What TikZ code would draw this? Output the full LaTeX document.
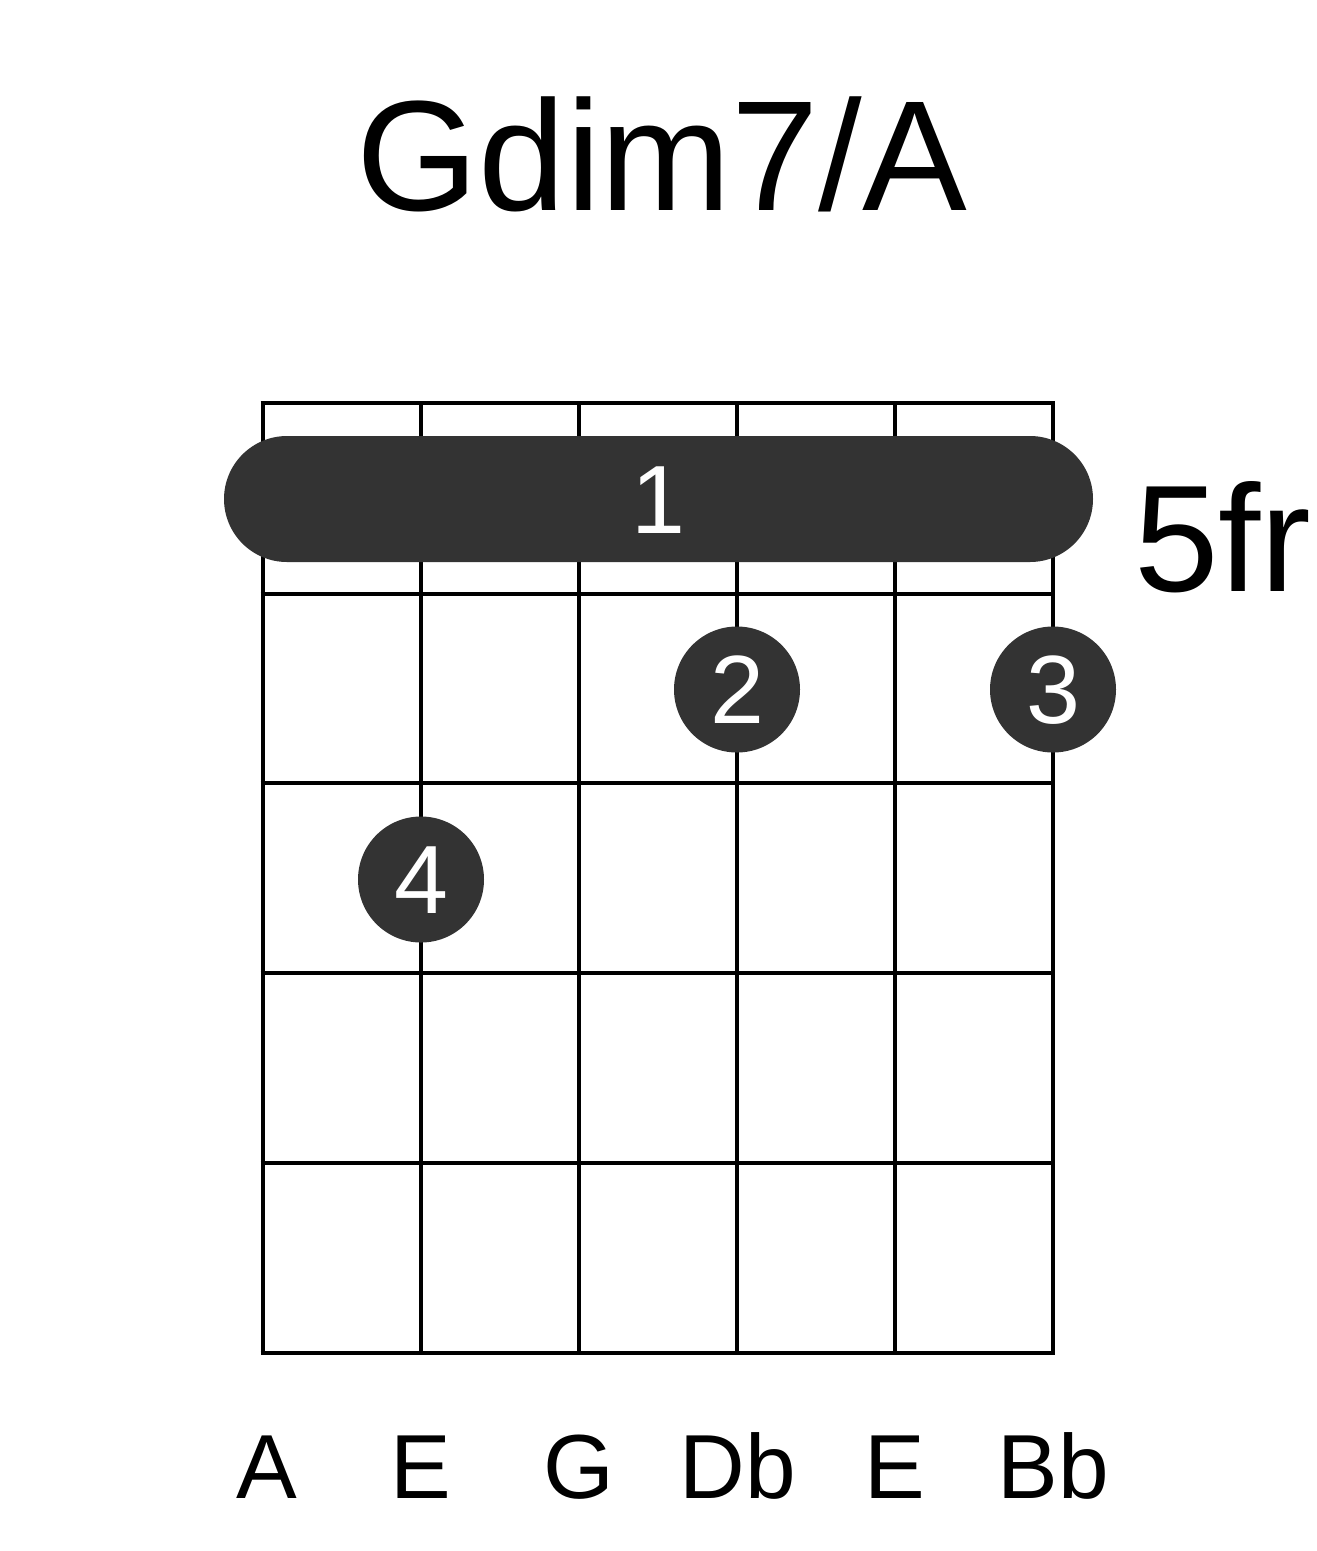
\documentclass[tikz,border=0pt]{standalone}
\usepackage{fontspec}
\setmainfont{Liberation Sans}
\definecolor{dotgray}{HTML}{333333}
\begin{document}
\begin{tikzpicture}[x=1pt,y=-1pt,
  gridline/.style={line width=4.6pt,black},
  fingerdot/.style={circle,fill=dotgray,minimum size=126pt,inner sep=0pt},
  fingernum/.style={white,font=\fontsize{97}{97}\selectfont,anchor=base},
  strname/.style={black,font=\fontsize{91}{91}\selectfont,anchor=base},
]
\useasboundingbox (0,0) rectangle (1317,1551);
% grid
\foreach \x in {263,421,579,737,895,1053} \draw[gridline] (\x,403) -- (\x,1353);
\foreach \y in {403,594,783,973,1163,1353} \draw[gridline] (260.7,\y) -- (1055.3,\y);
% title
\node[anchor=base,font=\fontsize{157}{157}\selectfont] (title) at (662,210) {Gdim7/A};
% barre
\node[fill=dotgray,rounded corners=63pt,minimum width=869pt,minimum height=126pt,inner sep=0pt] (barre) at (658.5,499) {};
\node[fingernum] (b1) at (658,533) {1};
% dots
\node[fingerdot] (d2) at (737,689.5) {};
\node[fingernum] (n2) at (737,723) {2};
\node[fingerdot] (d3) at (1053,689.5) {};
\node[fingernum] (n3) at (1053,723) {3};
\node[fingerdot] (d4) at (421,879.5) {};
\node[fingernum] (n4) at (421,913) {4};
% fret label
\node[anchor=base west,inner sep=0pt,font=\fontsize{152}{152}\selectfont] (fr) at (1134,591) {5fr};
% string names
\node[strname] (s1) at (267,1498) {A};
\node[strname] (s2) at (421,1498) {E};
\node[strname] (s3) at (579,1498) {G};
\node[strname] (s4) at (738,1498) {Db};
\node[strname] (s5) at (895,1498) {E};
\node[strname] (s6) at (1053,1498) {Bb};
\end{tikzpicture}
\end{document}
